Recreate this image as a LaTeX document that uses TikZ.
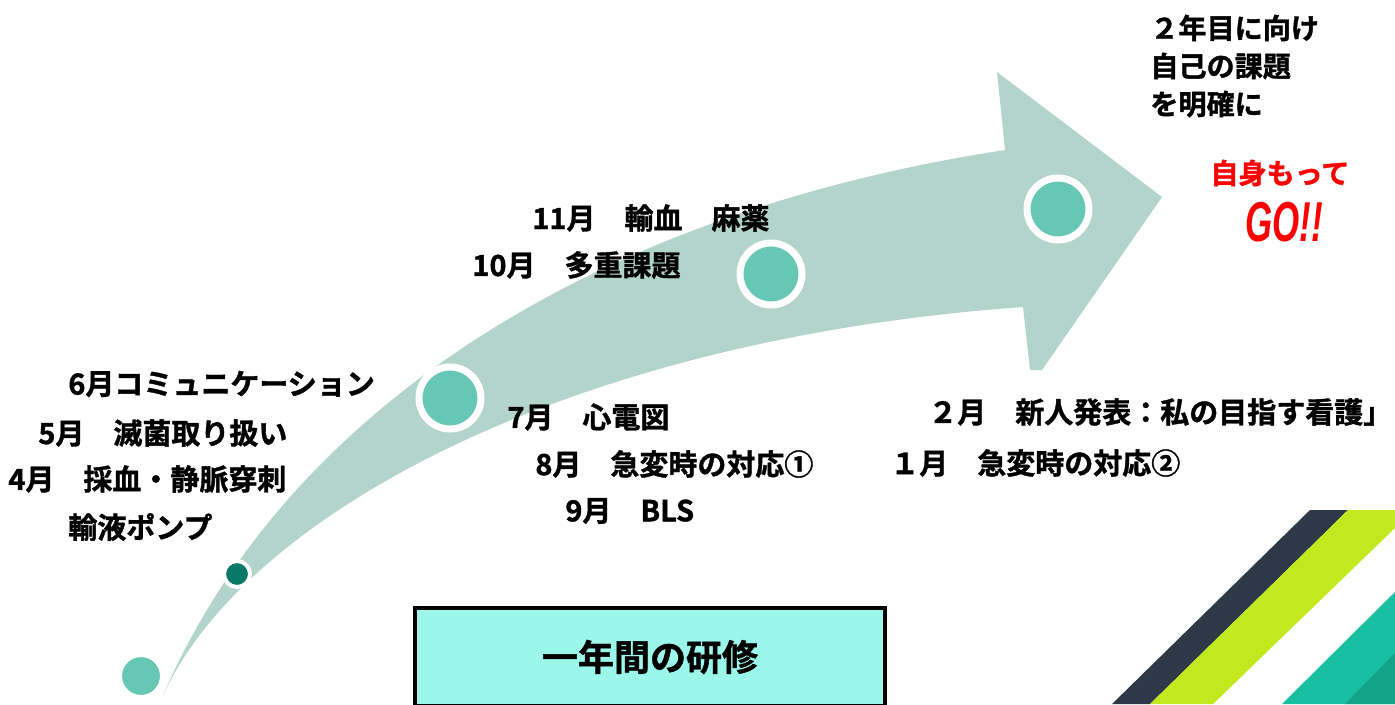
\documentclass[tikz,border=0pt]{standalone}
\usepackage{fontspec}
\setmainfont{Noto Sans CJK JP}[BoldFont={* Bold}, BoldFeatures={FakeBold=1.3}]
\newfontfamily\gofont{Liberation Sans}[FakeStretch=0.62, BoldFeatures={FakeBold=1.5}]
\usepackage{tikz}
\usetikzlibrary{positioning}
\definecolor{arrowfill}{HTML}{B3D4CB}
\definecolor{dotfill}{HTML}{66C7B4}
\definecolor{dotdark}{HTML}{0A7A68}
\definecolor{boxfill}{HTML}{9AF7EA}
\definecolor{stripedark}{HTML}{2E3846}
\definecolor{stripelime}{HTML}{C2E81E}
\definecolor{stripeteal}{HTML}{17BFA2}
\definecolor{stripedeep}{HTML}{13A28A}
\tikzset{
  month/.style={anchor=west, inner sep=0pt, font=\fontsize{16.5}{20}\selectfont\bfseries},
  ring/.style={circle, fill=dotfill, draw=white, line width=0.14cm, inner sep=0pt, minimum size=1.24cm},
  titlebox/.style={draw=black, line width=0.08cm, fill=boxfill, minimum width=9.4cm, minimum height=1.96cm, font=\fontsize{20.5}{24}\selectfont\bfseries}
}
\begin{document}
\begin{tikzpicture}[x=0.02cm,y=-0.02cm]
\clip (0,0) rectangle (1395,704);
\fill[white] (0,0) rectangle (1395,704);
% curved arrow
\fill[arrowfill] (162,698) .. controls (280,420) and (580,215) .. (1005,150) -- (997,72) -- (1162,197) -- (1042,370) -- (1030,370) -- (1023,307) .. controls (560,340) and (240,520) .. (162,698) -- cycle;
% stripes
\fill[stripedark] (1310,510) -- (1348,510) -- (1150,704) -- (1112,704) -- cycle;
\fill[stripelime] (1348,510) -- (1395,510) -- (1395,528) -- (1213,704) -- (1150,704) -- cycle;
\fill[stripeteal] (1395,592) -- (1395,704) -- (1282,704) -- cycle;
\fill[stripedeep] (1395,653) -- (1395,704) -- (1345,704) -- cycle;
\node[circle, fill=dotfill, draw=white, line width=0.04cm, inner sep=0pt, minimum size=0.8cm] (start) at (141,676) {};
\node[circle, fill=dotdark, draw=white, line width=0.08cm, inner sep=0pt, minimum size=0.52cm] (apr) at (237,574) {};
\node[ring] (jul) at (450,398) {};
\node[ring] (oct) at (771,274) {};
\node[ring] (jan) at (1058,209) {};
\node[month] (t6) at (68,384) {6月コミュニケーション};
\node[month] (t5) at (38,433) {5月　滅菌取り扱い};
\node[month] (t4) at (8,479) {4月　採血・静脈穿刺};
\node[month] (tpump) at (68,527) {輸液ポンプ};
\node[month] (t11) at (532,218) {11月　輸血　麻薬};
\node[month] (t10) at (472,265) {10月　多重課題};
\node[month] (t7) at (507,417) {7月　心電図};
\node[month] (t8) at (535,464) {8月　急変時の対応①};
\node[month] (t9) at (565,511) {9月　BLS};
\node[month] (t2) at (928,412) {２月　新人発表：私の目指す看護」};
\node[month] (t1) at (890,463) {１月　急変時の対応②};
\node[month, align=left, font=\fontsize{16}{21.6}\selectfont\bfseries] (goal) at (1150,66) {２年目に向け\\自己の課題\\を明確に};
\node[month, text=red, font=\fontsize{16}{20}\selectfont\bfseries] (self) at (1210,173) {自身もって};
\node[month, text=red, font=\fontsize{32}{34}\selectfont\gofont\bfseries\itshape] (go) at (1245,222) {GO!!};
\node[titlebox] (title) at (650,657) {一年間の研修};
\end{tikzpicture}
\end{document}
